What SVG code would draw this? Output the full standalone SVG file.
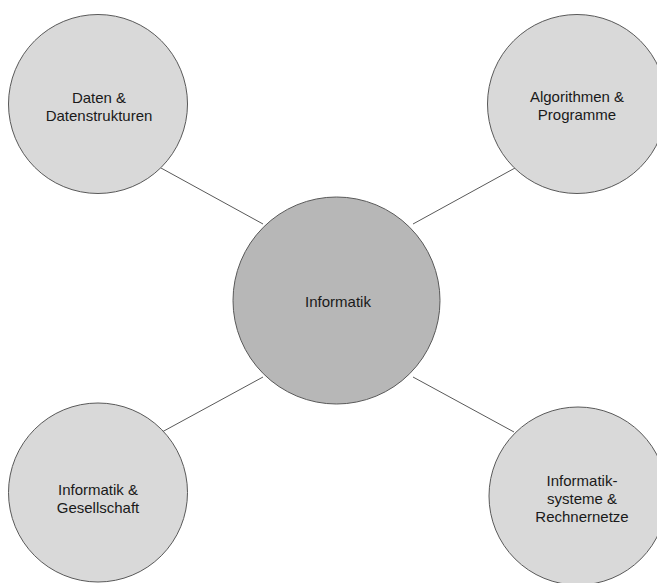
<svg xmlns="http://www.w3.org/2000/svg" width="657" height="583" viewBox="0 0 657 583">
  <style>
    .node { stroke: #595959; stroke-width: 1; }
    .outer { fill: #d9d9d9; }
    .core { fill: #b7b7b7; }
    .edge { stroke: #595959; stroke-width: 1; fill: none; }
    text { font-family: "Liberation Sans", Arial, sans-serif; font-size: 15px; fill: #1a1a1a; text-anchor: middle; dominant-baseline: central; }
  </style>
  <rect width="657" height="583" fill="#ffffff"/>
  <g id="connectors">
    <line class="edge" x1="161" y1="168" x2="263" y2="224"/>
    <line class="edge" x1="413" y1="224" x2="515" y2="168"/>
    <line class="edge" x1="263" y1="377" x2="162" y2="432"/>
    <line class="edge" x1="413" y1="377" x2="514" y2="432"/>
  </g>
  <g id="informatik">
    <circle class="node core" cx="336.5" cy="300.5" r="103.5"/>
    <text x="338" y="301">Informatik</text>
  </g>
  <g id="daten">
    <circle class="node outer" cx="98" cy="104" r="89.5"/>
    <text x="99" y="97">Daten &amp;</text>
    <text x="99" y="115">Datenstrukturen</text>
  </g>
  <g id="algorithmen">
    <circle class="node outer" cx="577" cy="104" r="89.5"/>
    <text x="577" y="96">Algorithmen &amp;</text>
    <text x="577" y="114">Programme</text>
  </g>
  <g id="gesellschaft">
    <circle class="node outer" cx="98" cy="492.5" r="89.5"/>
    <text x="98" y="489">Informatik &amp;</text>
    <text x="98" y="507">Gesellschaft</text>
  </g>
  <g id="systeme">
    <circle class="node outer" cx="578" cy="496" r="89"/>
    <text x="582" y="480">Informatik-</text>
    <text x="582" y="498">systeme &amp;</text>
    <text x="582" y="516">Rechnernetze</text>
  </g>
</svg>
